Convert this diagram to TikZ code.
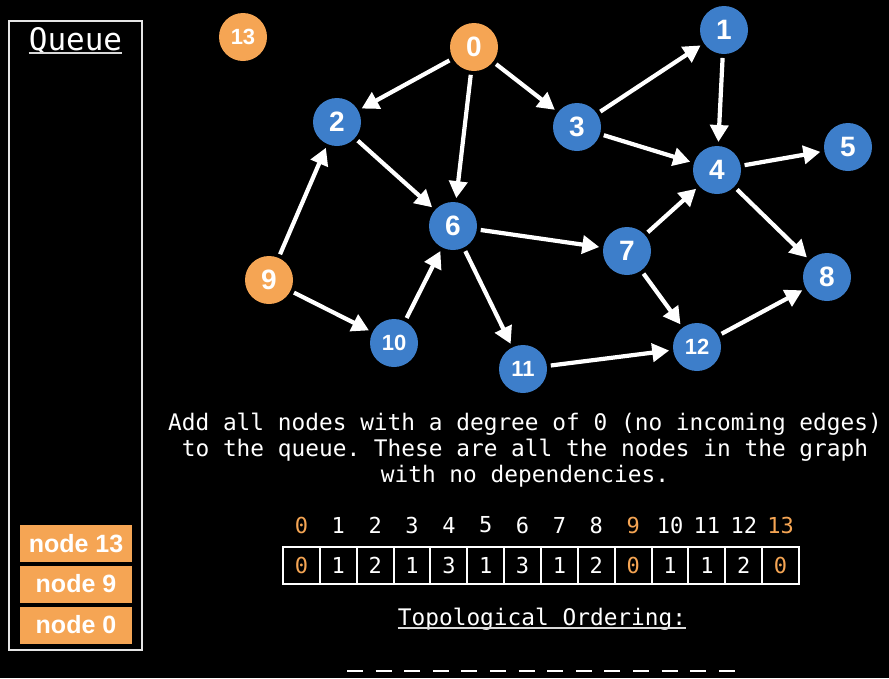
\documentclass[tikz,border=0pt]{standalone}
\usepackage{fontspec}
\setmainfont{Liberation Sans}
\setmonofont{DejaVu Sans Mono}
\usetikzlibrary{arrows.meta}
\definecolor{nodeorange}{RGB}{245,165,84}
\definecolor{nodeblue}{RGB}{61,126,202}

\begin{document}
\begin{tikzpicture}[x=1pt,y=-1pt,
    vtx/.style={circle,fill=nodeblue,text=white,minimum size=48pt,inner sep=0pt,outer sep=0pt,font=\fontsize{28}{28}\selectfont\bfseries},
    src/.style={vtx,fill=nodeorange},
    twodig/.style={font=\fontsize{22}{22}\selectfont\bfseries},
    arr/.style={draw=white,line width=4.2pt,-{Triangle[length=17pt,width=18pt]},shorten >=4pt,shorten <=4pt},
    qitem/.style={rectangle,fill=nodeorange,text=white,minimum width=112pt,minimum height=37pt,inner sep=0pt,font=\fontsize{25}{25}\selectfont\bfseries},
    cell/.style={draw=white,line width=2pt,minimum width=36.86pt,minimum height=37pt,inner sep=0pt,font=\ttfamily\fontsize{22}{22}\selectfont},
    mono/.style={text=white,inner sep=0pt,font=\ttfamily\fontsize{22.8}{26}\selectfont}]

    % background
    \fill[black] (0,0) rectangle (889,678);

    % Queue
    \draw[white!90!black,line width=1.5pt] (9,21) rectangle (142,650);
    \node[mono,anchor=base,font=\ttfamily\fontsize{31}{31}\selectfont] (qtitle) at (75.5,50) {Queue};
    \draw[white!85!black,line width=1.5pt] ([yshift=-3pt]qtitle.base west) -- ([yshift=-3pt]qtitle.base east);
    \node[qitem] (q13) at (76,543.5) {node 13};
    \node[qitem] (q9) at (76,584) {node 9};
    \node[qitem] (q0) at (76,625) {node 0};

    % Graph
    \node[src,twodig] (n13) at (243,37) {13};
    \node[src] (n0) at (474,47) {0};
    \node[vtx] (n1) at (724,30) {1};
    \node[vtx] (n2) at (337,122) {2};
    \node[vtx] (n3) at (577,127) {3};
    \node[vtx] (n4) at (717,170) {4};
    \node[vtx] (n5) at (848,147) {5};
    \node[vtx] (n6) at (453,226) {6};
    \node[vtx] (n7) at (627,251) {7};
    \node[vtx] (n8) at (827,277) {8};
    \node[src] (n9) at (269,280) {9};
    \node[vtx,twodig] (n10) at (394,343) {10};
    \node[vtx,twodig] (n11) at (523,369) {11};
    \node[vtx,twodig] (n12) at (697,347) {12};
    \foreach \a/\b in {0/2,0/6,0/3,3/1,3/4,1/4,4/5,4/8,2/6,9/2,9/10,10/6,6/7,6/11,7/4,7/12,11/12,12/8}
        \draw[arr] (n\a) -- (n\b);

    % Explanation
    \node[mono,anchor=base,align=center] (note) at (525,482)
        {Add all nodes with a degree of 0 (no incoming edges)\\
         to the queue. These are all the nodes in the graph\\
         with no dependencies.};

    % In-degree array
    \foreach \i/\d/\c in {0/0/nodeorange,1/1/white,2/2/white,3/1/white,4/3/white,5/1/white,6/3/white,
                          7/1/white,8/2/white,9/0/nodeorange,10/1/white,11/1/white,12/2/white,13/0/nodeorange} {
        \node[cell,text=\c] (c\i) at ({283+36.86*(\i+0.5)},565.5) {\d};
        \node[mono,text=\c,font=\ttfamily\fontsize{22}{22}\selectfont] (i\i) at ({283+36.86*(\i+0.5)},525) {\i};
    }

    % Topological ordering
    \node[mono,anchor=base] (topo) at (542,625) {Topological Ordering:};
    \draw[white!85!black,line width=1.5pt] ([yshift=-3pt]topo.base west) -- ([yshift=-3pt]topo.base east);
    \foreach \k in {0,...,13}
        \draw[white,line width=2.5pt] ({347+28.6*\k},671) -- ({363+28.6*\k},671);
\end{tikzpicture}
\end{document}
